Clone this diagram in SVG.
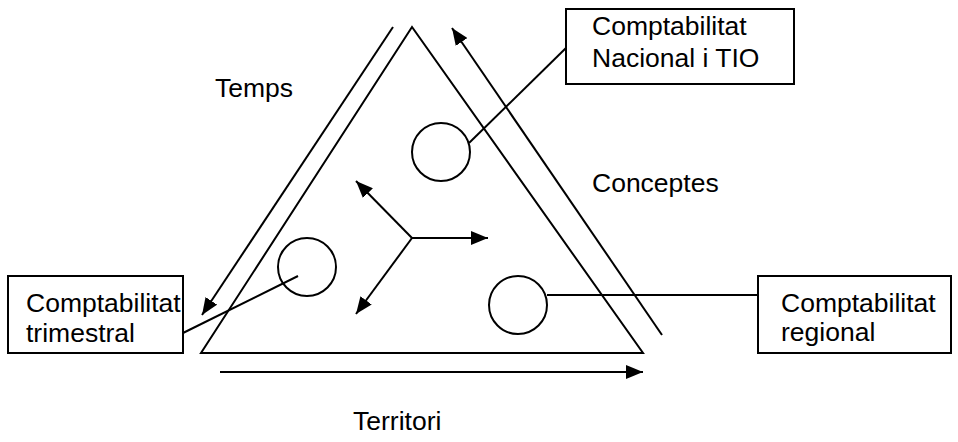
<svg xmlns="http://www.w3.org/2000/svg" width="958" height="442" viewBox="0 0 958 442">
<style>
.l{stroke:#000;stroke-width:2;fill:none}
.b{stroke:#000;stroke-width:2;fill:#fff}
.t{font-family:"Liberation Sans",Arial,sans-serif;font-size:26.5px;fill:#000}
</style>
<defs>
<marker id="ah2" markerWidth="17" markerHeight="14" refX="17" refY="7" orient="auto" markerUnits="userSpaceOnUse" viewBox="0 0 17 14">
<path d="M0,0 L17,7 L0,14 Z" fill="#000"/>
</marker>
</defs>
<rect width="958" height="442" fill="#fff"/>
<g id="triangle">
<polygon class="l" points="412,27 201,353 643,353"/>
</g>
<g id="axes">
<line class="l" x1="393" y1="27" x2="202" y2="315" marker-end="url(#ah2)"/>
<line class="l" x1="662" y1="335" x2="452" y2="28" marker-end="url(#ah2)"/>
<line class="l" x1="220" y1="372" x2="643" y2="372" marker-end="url(#ah2)"/>
<line class="l" x1="412" y1="238" x2="488" y2="238" marker-end="url(#ah2)"/>
<line class="l" x1="412" y1="238" x2="356" y2="181" marker-end="url(#ah2)"/>
<line class="l" x1="412" y1="238" x2="356" y2="314" marker-end="url(#ah2)"/>
</g>
<g id="connectors">
<line class="l" x1="469" y1="143" x2="567" y2="47"/>
<line class="l" x1="298" y1="276" x2="183" y2="333"/>
<line class="l" x1="547" y1="295" x2="758" y2="295"/>
</g>
<g id="circle-top"><circle class="l" cx="441" cy="152" r="29"/></g>
<g id="circle-left"><circle class="l" cx="307" cy="267" r="29"/></g>
<g id="circle-right"><circle class="l" cx="518" cy="305" r="29"/></g>
<g id="box-nacional">
<rect class="b" x="566" y="9" width="228" height="75"/>
<text class="t" x="592" y="35">Comptabilitat</text>
<text class="t" x="592" y="67">Nacional i TIO</text>
</g>
<g id="box-trimestral">
<rect class="b" x="8" y="276" width="175" height="77"/>
<text class="t" x="26" y="312">Comptabilitat</text>
<text class="t" x="26" y="342">trimestral</text>
</g>
<g id="box-regional">
<rect class="b" x="758" y="276" width="193" height="77"/>
<text class="t" x="781" y="312">Comptabilitat</text>
<text class="t" x="781" y="341">regional</text>
</g>
<g id="labels">
<text class="t" x="215" y="97">Temps</text>
<text class="t" x="592" y="192">Conceptes</text>
<text class="t" x="353" y="430">Territori</text>
</g>
</svg>
